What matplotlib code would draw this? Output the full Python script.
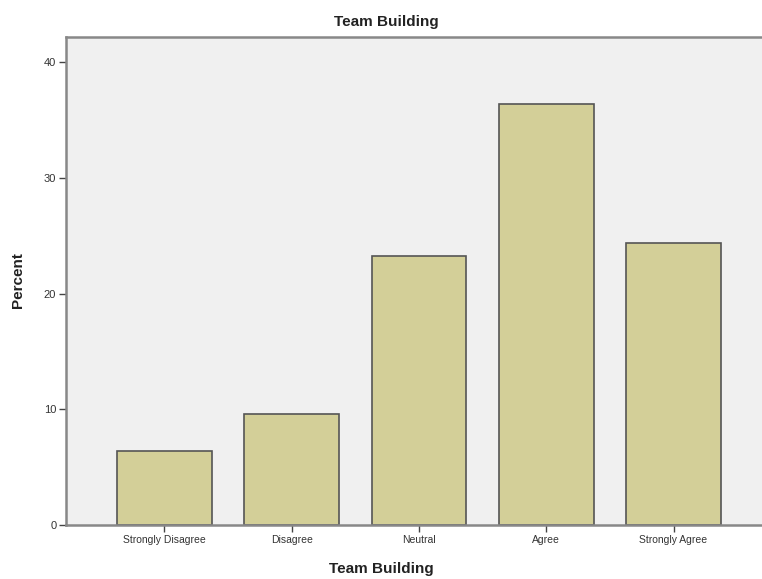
import matplotlib
matplotlib.use("Agg")
import matplotlib.pyplot as plt

plt.rcParams["font.family"] = ["Liberation Sans", "DejaVu Sans"]

categories = ["Strongly Disagree", "Disagree", "Neutral", "Agree", "Strongly Agree"]
percent = [6.4, 9.6, 23.2, 36.4, 24.4]
yticks = [0, 10, 20, 30, 40]

W, H = 762, 579
fig = plt.figure(figsize=(W/100, H/100), dpi=100)
left, right, top, bottom = 66, 772, 37, 525
ax = fig.add_axes([left/W, 1-bottom/H, (right-left)/W, (bottom-top)/H])
ax.set_facecolor("#f0f0f0")

x = list(range(len(categories)))
ax.bar(x, percent, width=0.746, color="#d3cf98", edgecolor="#555555", linewidth=1.2, zorder=2)
ax.set_xlim(-0.774, 4.774)
ax.set_ylim(0, 40 * (525-37) / (525-62))
ax.set_yticks(yticks)
ax.set_xticks(x)
ax.set_xticklabels(categories, fontsize=7.5, color="#333333")
ax.set_yticklabels([str(v) for v in yticks], fontsize=8, color="#333333")
ax.tick_params(axis="both", direction="out", length=5, width=1, color="#444444", pad=2)

for s in ["left", "bottom", "top", "right"]:
    ax.spines[s].set_color("#888888")
    ax.spines[s].set_linewidth(1.8)

fig.text(386/W, 1-22/H, "Team Building", ha="center", va="center", fontsize=11, fontweight="bold", color="#222222")
fig.text(381/W, 1-569/H, "Team Building", ha="center", va="center", fontsize=11, fontweight="bold", color="#222222")
fig.text(18/W, 1-280/H, "Percent", ha="center", va="center", rotation=90, fontsize=11, fontweight="bold", color="#222222")

fig.savefig("out.png", dpi=100)
